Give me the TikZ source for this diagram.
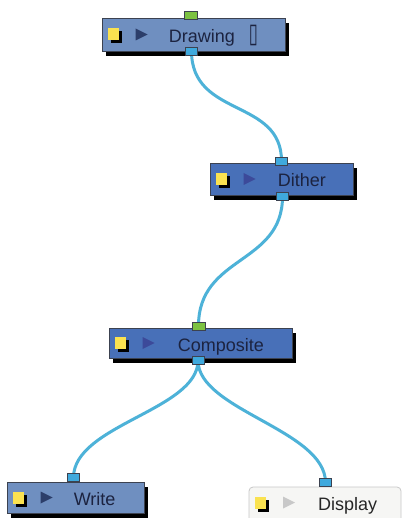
\documentclass[tikz,border=0pt]{standalone}
\usepackage{fontspec}
\setmainfont{Liberation Sans}
\newfontfamily\symfont{DejaVu Sans}
\usetikzlibrary{shadows}
\definecolor{boxlight}{RGB}{111,143,192}
\definecolor{boxdark}{RGB}{72,112,184}
\definecolor{boxline}{RGB}{60,66,80}
\definecolor{wirecol}{RGB}{77,178,216}
\definecolor{portblue}{RGB}{63,169,221}
\definecolor{portgreen}{RGB}{124,194,66}
\definecolor{yelcol}{RGB}{250,226,80}
\definecolor{txtcol}{RGB}{28,35,64}
\definecolor{trilight}{RGB}{44,62,106}
\definecolor{tridark}{RGB}{60,74,154}
\definecolor{dispfill}{RGB}{246,246,244}
\definecolor{displine}{RGB}{200,200,200}
\pgfdeclarelayer{bg}
\pgfdeclarelayer{wires}
\pgfsetlayers{bg,wires,main}
\tikzset{
  modbox/.style={draw=boxline, line width=0.8pt, inner sep=0pt,
    drop shadow={shadow xshift=4pt, shadow yshift=-5pt, opacity=1, fill=black}},
  yelsq/.style={fill=yelcol, draw=none, minimum width=11pt, minimum height=12pt, inner sep=0pt,
    drop shadow={shadow xshift=3pt, shadow yshift=-3pt, opacity=1, fill=black}},
  lbl/.style={anchor=base west, inner sep=0pt, text=txtcol, font=\fontsize{18}{18}\selectfont},
  bport/.style={fill=portblue, draw=boxline, line width=0.6pt, minimum width=12pt, minimum height=8pt, inner sep=0pt},
  gport/.style={fill=portgreen, draw=boxline, line width=0.6pt, minimum width=13pt, minimum height=8pt, inner sep=0pt},
  wire/.style={draw=wirecol, line width=3pt},
}
\begin{document}
\begin{tikzpicture}[x=1pt, y=-1pt]
\begin{pgfonlayer}{bg}
\fill[white] (0,0) rectangle (404,518);
\end{pgfonlayer}
\useasboundingbox (0,0) rectangle (404,518);

% Drawing
\node[modbox, fill=boxlight, minimum width=183pt, minimum height=33pt] (drawing) at (193.5,34.5) {};
\node[yelsq] (drawingicon) at ([xshift=11.5pt]drawing.west) {};
\fill[trilight] ([xshift=34pt,yshift=6pt]drawing.west) -- ++(12pt,-6pt) -- ++(-12pt,-6pt) -- cycle;
\node[lbl] (drawinglbl) at ([xshift=67pt,yshift=-8.5pt]drawing.west) {Drawing\hspace{14pt}{\symfont\fontsize{15}{15}\selectfont\scalebox{1.1}[1.8]{▯}}};
\node[gport] (drawingin) at (191,15) {};
\node[bport] (drawingout) at (191.5,51) {};

% Dither
\node[modbox, fill=boxdark, minimum width=143pt, minimum height=32pt] (dither) at (281.5,179) {};
\node[yelsq] (dithericon) at ([xshift=11.5pt]dither.west) {};
\fill[tridark] ([xshift=34pt,yshift=6pt]dither.west) -- ++(12pt,-6pt) -- ++(-12pt,-6pt) -- cycle;
\node[lbl] (ditherlbl) at ([xshift=68pt,yshift=-7.7pt]dither.west) {Dither};
\node[bport] (ditherin) at (281.5,161) {};
\node[bport] (ditherout) at (282.5,196.5) {};

% Composite
\node[modbox, fill=boxdark, minimum width=183pt, minimum height=30pt] (composite) at (200.5,343) {};
\node[yelsq] (compositeicon) at ([xshift=11.5pt]composite.west) {};
\fill[tridark] ([xshift=34pt,yshift=6pt]composite.west) -- ++(12pt,-6pt) -- ++(-12pt,-6pt) -- cycle;
\node[lbl] (compositelbl) at ([xshift=69pt,yshift=-8pt]composite.west) {Composite};
\node[gport] (compositein) at (198.5,326) {};
\node[bport] (compositeout) at (198,360.5) {};

% Write
\node[modbox, fill=boxlight, minimum width=137pt, minimum height=31pt] (write) at (75.5,497.5) {};
\node[yelsq] (writeicon) at ([xshift=11.5pt]write.west) {};
\fill[trilight] ([xshift=34pt,yshift=6pt]write.west) -- ++(12pt,-6pt) -- ++(-12pt,-6pt) -- cycle;
\node[lbl] (writelbl) at ([xshift=67pt,yshift=-7.5pt]write.west) {Write};
\node[bport] (writein) at (73.5,477.5) {};

% Display
\node[draw=displine, fill=dispfill, line width=0.8pt, rounded corners=4pt, inner sep=0pt,
  minimum width=152pt, minimum height=36pt] (display) at (325,505) {};
\node[yelsq] (displayicon) at (260.5,502.5) {};
\fill[displine] (283,496.5) -- ++(12pt,-6pt) -- ++(-12pt,-6pt) -- cycle;
\node[lbl, text=black!85] (displaylbl) at (318,510.5) {Display};
\node[bport] (displayin) at (325.5,482.5) {};

\begin{pgfonlayer}{wires}
\draw[wire] (drawingout.center) .. controls (191.5,118) and (281.5,98) .. (ditherin.center);
\draw[wire] (ditherout.center) .. controls (282.5,265) and (198.5,255) .. (compositein.center);
\draw[wire] (compositeout.center) .. controls (198,410) and (73.5,425) .. (writein.center);
\draw[wire] (compositeout.center) .. controls (198,410) and (325.5,430) .. (displayin.center);
\end{pgfonlayer}
\end{tikzpicture}
\end{document}
